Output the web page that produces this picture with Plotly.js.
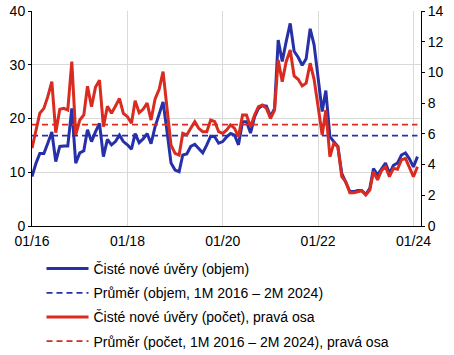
<!DOCTYPE html>
<html>
<head>
<meta charset="utf-8">
<script src="https://cdn.plot.ly/plotly-3.0.1.min.js"></script>
<style>html,body{margin:0;padding:0;background:#fff;}#chart{width:454px;height:355px;}</style>
</head>
<body>
<div id="chart"></div>
<script>
// Months: Jan 2016 .. Feb 2024
const startYear = 2016, monthCount = 98;
const months = [];
for (let i = 0; i < monthCount; i++) {
  const y = startYear + Math.floor(i / 12), m = (i % 12) + 1;
  months.push(y + '-' + String(m).padStart(2, '0') + '-01');
}

// Čisté nové úvěry (objem), left axis
const objem = [
  9.2, 11.7, 13.5, 13.5, 15.4, 17.5, 12.0, 14.8, 14.9, 14.9, 21.9, 11.7,
  13.6, 14.0, 17.9, 15.7, 17.5, 19.1, 12.9, 16.1, 15.1, 15.7, 16.9, 15.7,
  15.1, 14.3, 17.2, 15.5, 16.2, 17.2, 15.3, 18.5, 20.8, 23.1, 17.5, 11.7,
  10.4, 10.1, 13.2, 13.4, 14.8, 15.2, 14.4, 13.6, 15.1, 16.7, 16.6, 15.4,
  15.7, 16.6, 17.2, 16.9, 15.1, 19.4, 19.4, 17.3, 20.3, 21.9, 22.4, 22.3,
  20.4, 21.8, 34.6, 30.6, 34.3, 37.7, 32.5, 31.4, 29.9, 31.1, 36.7, 33.7,
  27.5, 21.3, 25.2, 16.6, 15.7, 14.8, 9.8, 8.2, 6.4, 6.4, 6.6, 6.6,
  5.9, 7.0, 10.7, 9.5, 10.7, 11.7, 9.8, 11.3, 11.7, 13.2, 13.6, 12.5,
  11.0, 12.9
];

// Čisté nové úvěry (počet), right axis
const pocet = [
  5.06, 6.25, 7.34, 7.66, 8.42, 9.4, 6.08, 7.6, 7.66, 7.55, 10.7, 5.93,
  6.9, 7.23, 9.1, 7.77, 9.03, 9.5, 6.47, 7.8, 7.34, 7.8, 8.3, 7.34,
  7.12, 6.69, 8.16, 7.38, 7.6, 8.0, 6.9, 8.28, 8.9, 10.05, 7.55, 5.27,
  4.73, 4.62, 6.03, 5.93, 6.36, 6.79, 6.36, 6.14, 6.14, 6.9, 6.79, 6.14,
  6.03, 6.25, 6.58, 6.36, 5.82, 7.23, 7.23, 6.47, 7.23, 7.77, 7.88, 7.66,
  7.0, 7.55, 10.8, 9.4, 10.7, 11.46, 9.77, 9.55, 9.12, 9.3, 10.6, 9.55,
  7.77, 5.93, 7.55, 4.51, 5.38, 5.17, 3.21, 2.88, 2.17, 2.17, 2.23, 2.3,
  2.02, 2.34, 3.54, 3.0, 3.6, 3.86, 3.21, 3.75, 3.69, 4.3, 4.4, 3.86,
  3.21, 3.86
];

const avgObjem = 16.8;
const avgPocet = 6.6;

const names = [
  'Čisté nové úvěry (objem)',
  'Průměr (objem, 1M 2016 – 2M 2024)',
  'Čisté nové úvěry (počet), pravá osa',
  'Průměr (počet, 1M 2016 – 2M 2024), pravá osa'
];
const xTickLabels = ['01/16', '01/18', '01/20', '01/22', '01/24'];
const xTickVals = ['2016-01-01', '2018-01-01', '2020-01-01', '2022-01-01', '2024-01-01'];

const blue = '#2630A8';
const red = '#D92B20';

const traces = [
  {x: months, y: objem, name: names[0], type: 'scatter', mode: 'lines',
   line: {color: blue, width: 3}, legendgroup: 'a'},
  {x: months, y: months.map(() => avgObjem), name: names[1], type: 'scatter', mode: 'lines',
   line: {color: blue, width: 1.8, dash: '6px,4px'}, legendgroup: 'b'},
  {x: months, y: pocet, name: names[2], type: 'scatter', mode: 'lines', yaxis: 'y2',
   line: {color: red, width: 3}, legendgroup: 'c'},
  {x: months, y: months.map(() => avgPocet), name: names[3], type: 'scatter', mode: 'lines', yaxis: 'y2',
   line: {color: red, width: 1.8, dash: '6px,4px'}, legendgroup: 'd'}
];

const layout = {
  width: 454, height: 355,
  margin: {l: 32, r: 33, t: 11, b: 129, autoexpand: false},
  paper_bgcolor: '#fff', plot_bgcolor: '#fff',
  font: {family: 'Liberation Sans, Arial, sans-serif', size: 14, color: '#000'},
  showlegend: true,
  xaxis: {
    type: 'date', range: ['2016-01-01', '2024-02-28'],
    tickvals: xTickVals, ticktext: xTickLabels, tickangle: 0,
    showgrid: true, gridcolor: '#d9d9d9', gridwidth: 1,
    showline: true, linecolor: '#000', linewidth: 1,
    ticks: '', ticklabelstandoff: 2, zeroline: false, tickfont: {size: 14}
  },
  yaxis: {
    range: [0, 40], dtick: 10, tick0: 0,
    showgrid: true, gridcolor: '#d9d9d9', gridwidth: 1,
    showline: true, linecolor: '#000', linewidth: 1,
    ticks: 'outside', ticklen: 3, tickcolor: '#000', zeroline: false,
    tickfont: {size: 14}
  },
  yaxis2: {
    range: [0, 14], dtick: 2, tick0: 0, overlaying: 'y', side: 'right',
    showgrid: false, showline: true, linecolor: '#000', linewidth: 1,
    ticks: 'outside', ticklen: 3, tickcolor: '#000', zeroline: false,
    tickfont: {size: 14}
  },
  legend: {
    orientation: 'v', xref: 'paper', yref: 'paper',
    x: (41.5 - 32) / 389, y: (226 - 253) / 215, xanchor: 'left', yanchor: 'top',
    tracegroupgap: 3, itemwidth: 42, font: {size: 14},
    bgcolor: 'rgba(0,0,0,0)'
  }
};

Plotly.newPlot('chart', traces, layout, {displayModeBar: false, staticPlot: true});
</script>
</body>
</html>
